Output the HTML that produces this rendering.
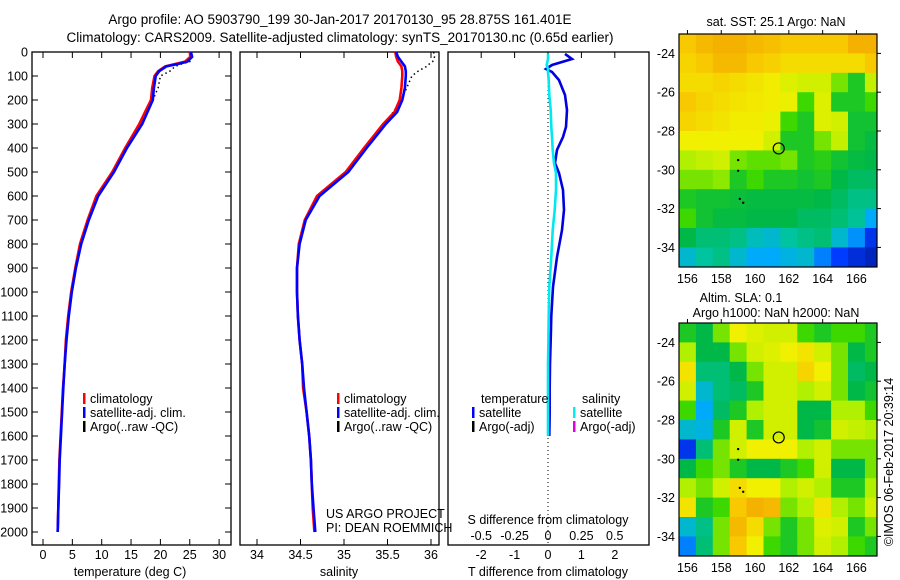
<!DOCTYPE html>
<html><head><meta charset="utf-8">
<style>
html,body{margin:0;padding:0;background:#fff;}
svg{display:block;font-family:"Liberation Sans",sans-serif;}
text{font-size:12.5px;fill:#000;}
</style></head>
<body>
<svg id="fig" width="900" height="580" viewBox="0 0 900 580" xmlns="http://www.w3.org/2000/svg">
<defs>
<clipPath id="clip1"><rect x="679" y="34" width="198" height="233"/></clipPath>
<clipPath id="clip2"><rect x="679" y="323" width="198" height="233"/></clipPath>
</defs>
<text x="340" y="24" text-anchor="middle" style="font-size:13.5px">Argo profile: AO 5903790_199 30-Jan-2017 20170130_95 28.875S 161.401E</text>
<text x="340" y="42" text-anchor="middle" style="font-size:13.5px">Climatology: CARS2009. Satellite-adjusted climatology: synTS_20170130.nc (0.65d earlier)</text>
<g id="g1"></g>
<g id="g2"></g>
<g id="g3"></g>
<g id="m1"></g>
<g id="m2"></g>
<text x="776" y="26" text-anchor="middle">sat. SST: 25.1 Argo: NaN</text>
<text x="741" y="302" text-anchor="middle">Altim. SLA: 0.1</text>
<text x="776" y="317" text-anchor="middle">Argo h1000: NaN h2000: NaN</text>
<text transform="translate(893,462) rotate(-90)" text-anchor="middle">©IMOS 06-Feb-2017 20:39:14</text>
</svg>
<script>
// ---- profile data ----
const depthClim = [0,20,40,50,60,80,100,150,200,250,300,400,500,600,700,800,900,1000,1100,1200,1300,1400,1500,1600,1700,1800,1900,2000];
const tempClim  = [25.0,25.1,24.2,22.5,20.8,19.6,19.0,18.6,18.4,17.4,16.4,14.0,11.8,9.1,7.6,6.3,5.5,4.8,4.3,3.9,3.7,3.4,3.2,3.0,2.8,2.7,2.6,2.5];
const tempSat   = [25.2,25.4,24.6,23.0,21.0,19.8,19.2,18.9,18.7,17.8,16.9,14.3,12.1,9.4,7.8,6.5,5.6,4.9,4.4,4.0,3.7,3.45,3.25,3.05,2.85,2.75,2.6,2.5];
const salClim   = [35.59,35.6,35.62,35.64,35.66,35.67,35.67,35.66,35.64,35.58,35.45,35.23,35.02,34.69,34.55,34.48,34.46,34.46,34.47,34.49,34.52,34.53,34.57,34.6,34.62,34.63,34.64,34.66];
const salSat    = [35.6,35.62,35.66,35.68,35.7,35.71,35.71,35.7,35.67,35.61,35.48,35.26,35.05,34.72,34.56,34.49,34.46,34.46,34.47,34.49,34.52,34.54,34.57,34.6,34.62,34.63,34.65,34.67];
const depthArgo = [0,20,40,50,60,80,100,150,200,300,400,500,600,700];
const tempArgo  = [25.3,25.3,25.0,23.6,22.5,21.6,20.0,19.6,18.7,16.8,14.1,11.9,9.3,7.7];
const salArgo   = [36.03,36.04,36.02,35.98,35.95,35.85,35.78,35.72,35.66,35.47,35.24,35.03,34.7,34.56];
// differences
const depthDiff = [8,29,54,71,83,117,179,242,312,354,408,463,504,575,658,742,854,979,1100,1200,1300,1400,1500,1600];
const tDiff     = [0.51,0.72,0.12,-0.06,0.12,0.33,0.51,0.57,0.54,0.45,0.27,0.21,0.33,0.45,0.48,0.42,0.27,0.15,0.1,0.08,0.06,0.05,0.05,0.04];
const sDiff     = [0.0,0.0,-0.01,0.0,0.0,0.005,0.01,0.02,0.025,0.03,0.035,0.045,0.06,0.06,0.05,0.035,0.025,0.01,0.005,0.003,0.0,0.0,0.0,0.0];
const depthTicks = [0,100,200,300,400,500,600,700,800,900,1000,1100,1200,1300,1400,1500,1600,1700,1800,1900,2000];
const tempTicks = [0,5,10,15,20,25,30];
const salTicks = ["34","34.5","35","35.5","36"];
const tdTicks = [-2,-1,0,1,2];
const sdTicks = ["-0.5","-0.25","0","0.25","0.5"];
// ---- map data (1-degree cells, rows lat -23..-35, cols lon 155.5..167.5), normalized 0..1 ----
const sstGrid = [
[0.85,0.88,0.9,0.9,0.88,0.87,0.85,0.85,0.85,0.85,0.9,0.9],
[0.82,0.85,0.88,0.88,0.85,0.83,0.8,0.8,0.8,0.8,0.8,0.85],
[0.8,0.8,0.82,0.8,0.78,0.76,0.72,0.7,0.7,0.6,0.5,0.68],
[0.85,0.82,0.8,0.78,0.77,0.76,0.74,0.55,0.72,0.5,0.5,0.55],
[0.82,0.8,0.78,0.76,0.76,0.74,0.55,0.5,0.72,0.7,0.48,0.48],
[0.75,0.75,0.75,0.75,0.75,0.7,0.5,0.5,0.6,0.68,0.48,0.46],
[0.65,0.68,0.7,0.6,0.58,0.58,0.6,0.5,0.52,0.48,0.46,0.45],
[0.6,0.6,0.62,0.5,0.55,0.5,0.5,0.48,0.5,0.45,0.42,0.42],
[0.5,0.48,0.48,0.47,0.46,0.46,0.46,0.46,0.45,0.42,0.38,0.38],
[0.55,0.48,0.46,0.46,0.45,0.45,0.45,0.42,0.42,0.4,0.36,0.25],
[0.45,0.4,0.4,0.38,0.32,0.3,0.35,0.38,0.4,0.3,0.22,0.1],
[0.3,0.35,0.38,0.3,0.25,0.25,0.28,0.3,0.2,0.12,0.08,0.05]];
const slaGrid = [
[0.5,0.45,0.6,0.75,0.72,0.7,0.7,0.55,0.5,0.55,0.55,0.5],
[0.65,0.45,0.45,0.6,0.7,0.72,0.75,0.78,0.7,0.6,0.45,0.5],
[0.78,0.4,0.4,0.45,0.6,0.7,0.7,0.82,0.75,0.6,0.42,0.45],
[0.7,0.3,0.4,0.42,0.5,0.7,0.7,0.65,0.7,0.6,0.45,0.48],
[0.55,0.25,0.42,0.5,0.65,0.7,0.7,0.45,0.45,0.65,0.65,0.55],
[0.3,0.28,0.5,0.7,0.5,0.7,0.7,0.45,0.48,0.7,0.68,0.65],
[0.1,0.4,0.6,0.7,0.75,0.75,0.75,0.65,0.7,0.6,0.6,0.6],
[0.45,0.55,0.6,0.5,0.45,0.45,0.5,0.55,0.7,0.45,0.45,0.6],
[0.65,0.6,0.7,0.8,0.75,0.75,0.65,0.7,0.65,0.5,0.5,0.65],
[0.78,0.5,0.55,0.85,0.9,0.88,0.6,0.65,0.78,0.65,0.6,0.7],
[0.3,0.38,0.6,0.88,0.8,0.6,0.5,0.6,0.72,0.7,0.5,0.6],
[0.2,0.4,0.6,0.85,0.75,0.55,0.5,0.6,0.7,0.65,0.55,0.5]];
const lonTicks = [156,158,160,162,164,166];
const latTicks = [-24,-26,-28,-30,-32,-34];
const argoLon = 161.4, argoLat = -28.9;

const NS = "http://www.w3.org/2000/svg";
function mk(parent, tag, attrs, txt){
  const e = document.createElementNS(NS, tag);
  for (const k in attrs) e.setAttribute(k, attrs[k]);
  if (txt !== undefined) e.textContent = txt;
  parent.appendChild(e); return e;
}
const TOP=52, BOT=545;
const yD = d => 52 + d*0.24;
const xT = t => 43 + t*5.87;
const xS = s => 257 + (s-34)*87;
const xTD = v => 548 + v*33.4;
const xSD = v => 548 + v*133.5;

function frame(g, x0, x1){
  const r = mk(g,'rect',{x:x0,y:TOP,width:x1-x0,height:BOT-TOP,fill:'none',stroke:'#000','stroke-width':1.3});
   
}
function poly(g, xs, ds, fx, color, w, dash, name){
  const pts = xs.map((v,i)=>fx(v).toFixed(1)+','+yD(ds[i]).toFixed(1)).join(' ');
  const p = mk(g,'polyline',{points:pts,fill:'none',stroke:color,'stroke-width':w});
  if (dash) p.setAttribute('stroke-dasharray',dash);
  
  
}
function legend(g, x, y, color, label, name){
  const l = mk(g,'rect',{x:x,y:y-10,width:2.5,height:11,fill:color});
   
  const t = mk(g,'text',{x:x+7,y:y},label);
   
}

// ---- panel 1 temperature ----
const g1 = document.getElementById('g1');
frame(g1,32,231);
depthTicks.forEach(d=>{
  mk(g1,'line',{x1:32,x2:38,y1:yD(d),y2:yD(d),stroke:'#000'});
  mk(g1,'line',{x1:225,x2:231,y1:yD(d),y2:yD(d),stroke:'#000'});
  const t = mk(g1,'text',{x:28,y:yD(d)+4.5,'text-anchor':'end'},String(d));
   
});
tempTicks.forEach(v=>{
  mk(g1,'line',{x1:xT(v),x2:xT(v),y1:TOP,y2:TOP+6,stroke:'#000'});
  mk(g1,'line',{x1:xT(v),x2:xT(v),y1:BOT,y2:BOT-6,stroke:'#000'});
  const t = mk(g1,'text',{x:xT(v),y:559,'text-anchor':'middle'},String(v));
   
});
poly(g1,tempArgo,depthArgo,xT,'#000',1.5,'1.5,3','argo-temperature-line');
poly(g1,tempClim,depthClim,xT,'#f00',2.6,null,'climatology-temperature-line');
poly(g1,tempSat,depthClim,xT,'#00f',2.6,null,'satellite-temperature-line');
legend(g1,83,403,'#f00','climatology','legend-climatology');
legend(g1,83,417,'#00f','satellite-adj. clim.','legend-satellite');
legend(g1,83,431,'#000','Argo(..raw -QC)','legend-argo');
mk(g1,'text',{x:130,y:576,'text-anchor':'middle',},'temperature (deg C)');

// ---- panel 2 salinity ----
const g2 = document.getElementById('g2');
frame(g2,240,439);
salTicks.forEach(v=>{
  const x = xS(parseFloat(v));
  mk(g2,'line',{x1:x,x2:x,y1:TOP,y2:TOP+6,stroke:'#000'});
  mk(g2,'line',{x1:x,x2:x,y1:BOT,y2:BOT-6,stroke:'#000'});
  const t = mk(g2,'text',{x:x,y:559,'text-anchor':'middle'},v);
   
});
poly(g2,salArgo,depthArgo,xS,'#000',1.5,'1.5,3','argo-salinity-line');
poly(g2,salClim,depthClim,xS,'#f00',2.6,null,'climatology-salinity-line');
poly(g2,salSat,depthClim,xS,'#00f',2.6,null,'satellite-salinity-line');
legend(g2,337,403,'#f00','climatology','legend-climatology-2');
legend(g2,337,417,'#00f','satellite-adj. clim.','legend-satellite-2');
legend(g2,337,431,'#000','Argo(..raw -QC)','legend-argo-2');
mk(g2,'text',{x:326,y:518,},'US ARGO PROJECT');
mk(g2,'text',{x:326,y:532,},'PI: DEAN ROEMMICH');
mk(g2,'text',{x:339,y:576,'text-anchor':'middle',},'salinity');

// ---- panel 3 differences ----
const g3 = document.getElementById('g3');
frame(g3,448,649);
tdTicks.forEach(v=>{
  const x = xTD(v);
  mk(g3,'line',{x1:x,x2:x,y1:TOP,y2:TOP+6,stroke:'#000'});
  const t = mk(g3,'text',{x:x,y:559,'text-anchor':'middle'},String(v));
   
});
sdTicks.forEach(v=>{
  const t = mk(g3,'text',{x:xSD(parseFloat(v)),y:540,'text-anchor':'middle'},v);
   
});
mk(g3,'line',{x1:548,x2:548,y1:TOP+2,y2:BOT,stroke:'#000','stroke-dasharray':'1,3'});
poly(g3,tDiff,depthDiff,xTD,'#0000e0',2.6,null,'temperature-difference-line');
poly(g3,sDiff,depthDiff,xSD,'#00e8f0',2.6,null,'salinity-difference-line');
mk(g3,'text',{x:481,y:403,},'temperature');
mk(g3,'text',{x:582,y:403,},'salinity');
legend(g3,472,417,'#00f','satellite','legend-t-satellite');
legend(g3,472,431,'#000','Argo(-adj)','legend-t-argo');
legend(g3,573,417,'#00f0f0','satellite','legend-s-satellite');
legend(g3,573,431,'#e000e0','Argo(-adj)','legend-s-argo');
mk(g3,'text',{x:548,y:524,'text-anchor':'middle',},'S difference from climatology');
mk(g3,'text',{x:548,y:576,'text-anchor':'middle',},'T difference from climatology');

// ---- maps ----
const cmapStops = [[0,[0,20,140]],[0.12,[0,60,255]],[0.25,[0,170,250]],[0.35,[0,195,160]],[0.45,[0,184,72]],[0.55,[60,216,0]],[0.65,[176,240,0]],[0.75,[240,240,0]],[0.85,[248,200,0]],[1,[235,130,0]]];
function cmap(v){
  for(let i=1;i<cmapStops.length;i++){
    if(v<=cmapStops[i][0]){
      const a=cmapStops[i-1], b=cmapStops[i], f=(v-a[0])/(b[0]-a[0]);
      return 'rgb('+a[1].map((c,k)=>Math.round(c+(b[1][k]-c)*f)).join(',')+')';
    }
  }
  return 'rgb(235,130,0)';
}
function drawMap(id, grid, y0, clipId){
  const g = document.getElementById(id);
  const X0=679, X1=877, Y1=y0+233;
  const xL = lon => X0 + (lon-155.5)*16.9;
  const yL = lat => y0 + (-23-lat)*19.4;
  const cg = mk(g,'g',{'clip-path':'url(#'+clipId+')'});
   
  grid.forEach((row,r)=>row.forEach((v,c)=>{
    const cell = mk(cg,'rect',{x:xL(155.5+c).toFixed(1),y:yL(-23-r).toFixed(1),width:17.4,height:19.9,fill:cmap(v)});
    
    
  }));
  const fr = mk(g,'rect',{x:X0,y:y0,width:X1-X0,height:Y1-y0,fill:'none',stroke:'#000','stroke-width':1.2});
   
  lonTicks.forEach(l=>{
    mk(g,'line',{x1:xL(l),x2:xL(l),y1:y0-4,y2:y0,stroke:'#000'});
    const t = mk(g,'text',{x:xL(l),y:Y1+16,'text-anchor':'middle'},String(l));
     
  });
  latTicks.forEach(l=>{
    mk(g,'line',{x1:X1,x2:X1+4,y1:yL(l),y2:yL(l),stroke:'#000'});
    const t = mk(g,'text',{x:675,y:yL(l)+4.5,'text-anchor':'end'},String(l));
     
  });
  const c = mk(g,'circle',{cx:xL(argoLon),cy:yL(argoLat),r:5.5,fill:'none',stroke:'#000','stroke-width':1.2});
   
  [[159,-29.5],[159,-30.05],[159.1,-31.5],[159.3,-31.7]].forEach(p=>{
    const d = mk(g,'circle',{cx:xL(p[0]),cy:yL(p[1]),r:1.2,fill:'#000'});
     
  });
}
drawMap('m1', sstGrid, 34, 'clip1');
drawMap('m2', slaGrid, 323, 'clip2');
</script>
</body></html>
